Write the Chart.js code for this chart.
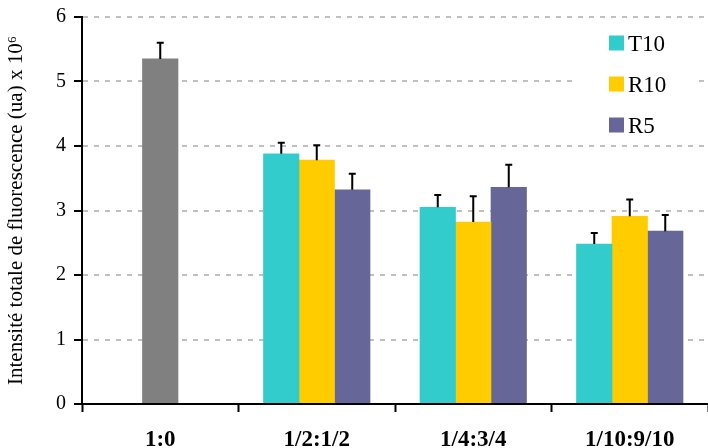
<!DOCTYPE html>
<html><head><meta charset="utf-8">
<script src="https://cdn.jsdelivr.net/npm/chart.js@4/dist/chart.umd.min.js"></script>
<style>html,body{margin:0;padding:0;background:#fff}#wrap{width:708px;height:448px}</style>
</head><body><div id="wrap"><canvas id="c" width="708" height="448"></canvas></div>
<script>
const categories = ['1:0', '1/2:1/2', '1/4:3/4', '1/10:9/10'];
const refValues = [5.35, null, null, null];
const refErrors = [0.25, null, null, null];
const t10Values = [null, 3.88, 3.05, 2.48];
const t10Errors = [null, 0.17, 0.19, 0.17];
const r10Values = [null, 3.78, 2.82, 2.91];
const r10Errors = [null, 0.23, 0.40, 0.26];
const r5Values = [null, 3.32, 3.36, 2.68];
const r5Errors = [null, 0.25, 0.35, 0.25];
const yTitle = 'Intensité totale de fluorescence (ua) x 10⁶';

const FONT = 'Liberation Serif';
Chart.defaults.font.family = FONT;
Chart.defaults.color = '#000';

const errorBars = {
  id: 'errorBars',
  afterDatasetsDraw(chart) {
    const ctx = chart.ctx, ys = chart.scales.y;
    chart.data.datasets.forEach((ds, di) => {
      const meta = chart.getDatasetMeta(di);
      ds.errors.forEach((e, i) => {
        if (e == null || ds.data[i] == null) return;
        const bar = meta.data[i];
        const y0 = ys.getPixelForValue(ds.data[i]);
        const y1 = ys.getPixelForValue(ds.data[i] + e);
        ctx.save();
        ctx.strokeStyle = '#000';
        ctx.lineWidth = 2;
        ctx.beginPath();
        ctx.moveTo(bar.x, y0); ctx.lineTo(bar.x, y1);
        ctx.moveTo(bar.x - 3.5, y1); ctx.lineTo(bar.x + 3.5, y1);
        ctx.stroke();
        ctx.restore();
      });
    });
  }
};

const boxLegend = {
  id: 'boxLegend',
  afterDatasetsDraw(chart) {
    const ctx = chart.ctx;
    const items = chart.data.datasets.filter(d => d.label);
    ctx.save();
    ctx.fillStyle = '#fff';
    ctx.fillRect(578, 24, 118, 116);
    ctx.font = '23px "' + FONT + '"';
    ctx.textBaseline = 'alphabetic';
    ctx.textAlign = 'left';
    items.forEach((d, k) => {
      const top = 35.5 + k * 41;
      ctx.fillStyle = d.backgroundColor;
      ctx.fillRect(609, top, 15, 15);
      ctx.fillStyle = '#000';
      ctx.fillText(d.label, 628, top + 15.5);
    });
    ctx.restore();
  }
};

new Chart(document.getElementById('c'), {
  type: 'bar',
  data: {
    labels: categories,
    datasets: [
      { label: '', data: refValues, errors: refErrors, backgroundColor: '#808080' },
      { label: 'T10', data: t10Values, errors: t10Errors, backgroundColor: '#33CCCC' },
      { label: 'R10', data: r10Values, errors: r10Errors, backgroundColor: '#FFCC00' },
      { label: 'R5', data: r5Values, errors: r5Errors, backgroundColor: '#666699' }
    ]
  },
  options: {
    responsive: false,
    animation: false,
    devicePixelRatio: 1,
    datasets: { bar: { skipNull: true, barThickness: 35.5 } },
    layout: { padding: { top: 17, right: -6, left: 0, bottom: 0 } },
    plugins: { legend: { display: false }, tooltip: { enabled: false } },
    scales: {
      x: {
        grid: { offset: true, drawOnChartArea: false, drawTicks: true, tickLength: 8, tickColor: '#000', tickWidth: 2, tickBorderDash: [] },
        border: { color: '#000', width: 2, z: 1 },
        ticks: { color: '#000', font: { family: FONT, size: 23, weight: 'bold' }, padding: 14, maxRotation: 0, autoSkip: false },
        afterFit(s) { s.height = 44; s.paddingRight = 0; s.paddingLeft = 0; }
      },
      y: {
        min: 0, max: 6,
        ticks: { stepSize: 1, color: '#000', font: { family: FONT, size: 20 }, padding: 8 },
        grid: { color: '#c0c0c0', lineWidth: 2, tickLength: 8, tickColor: '#000', tickWidth: 2, tickBorderDash: [] },
        border: { color: '#000', width: 2, dash: [5, 6], z: 1 },
        title: { display: true, text: yTitle, color: '#000', font: { family: FONT, size: 21 }, padding: { top: 4, bottom: 0 } },
        afterFit(s) { s.width = 82; s.paddingTop = 0; s.paddingBottom = 0; }
      }
    }
  },
  plugins: [errorBars, boxLegend]
});
</script>
</body></html>
